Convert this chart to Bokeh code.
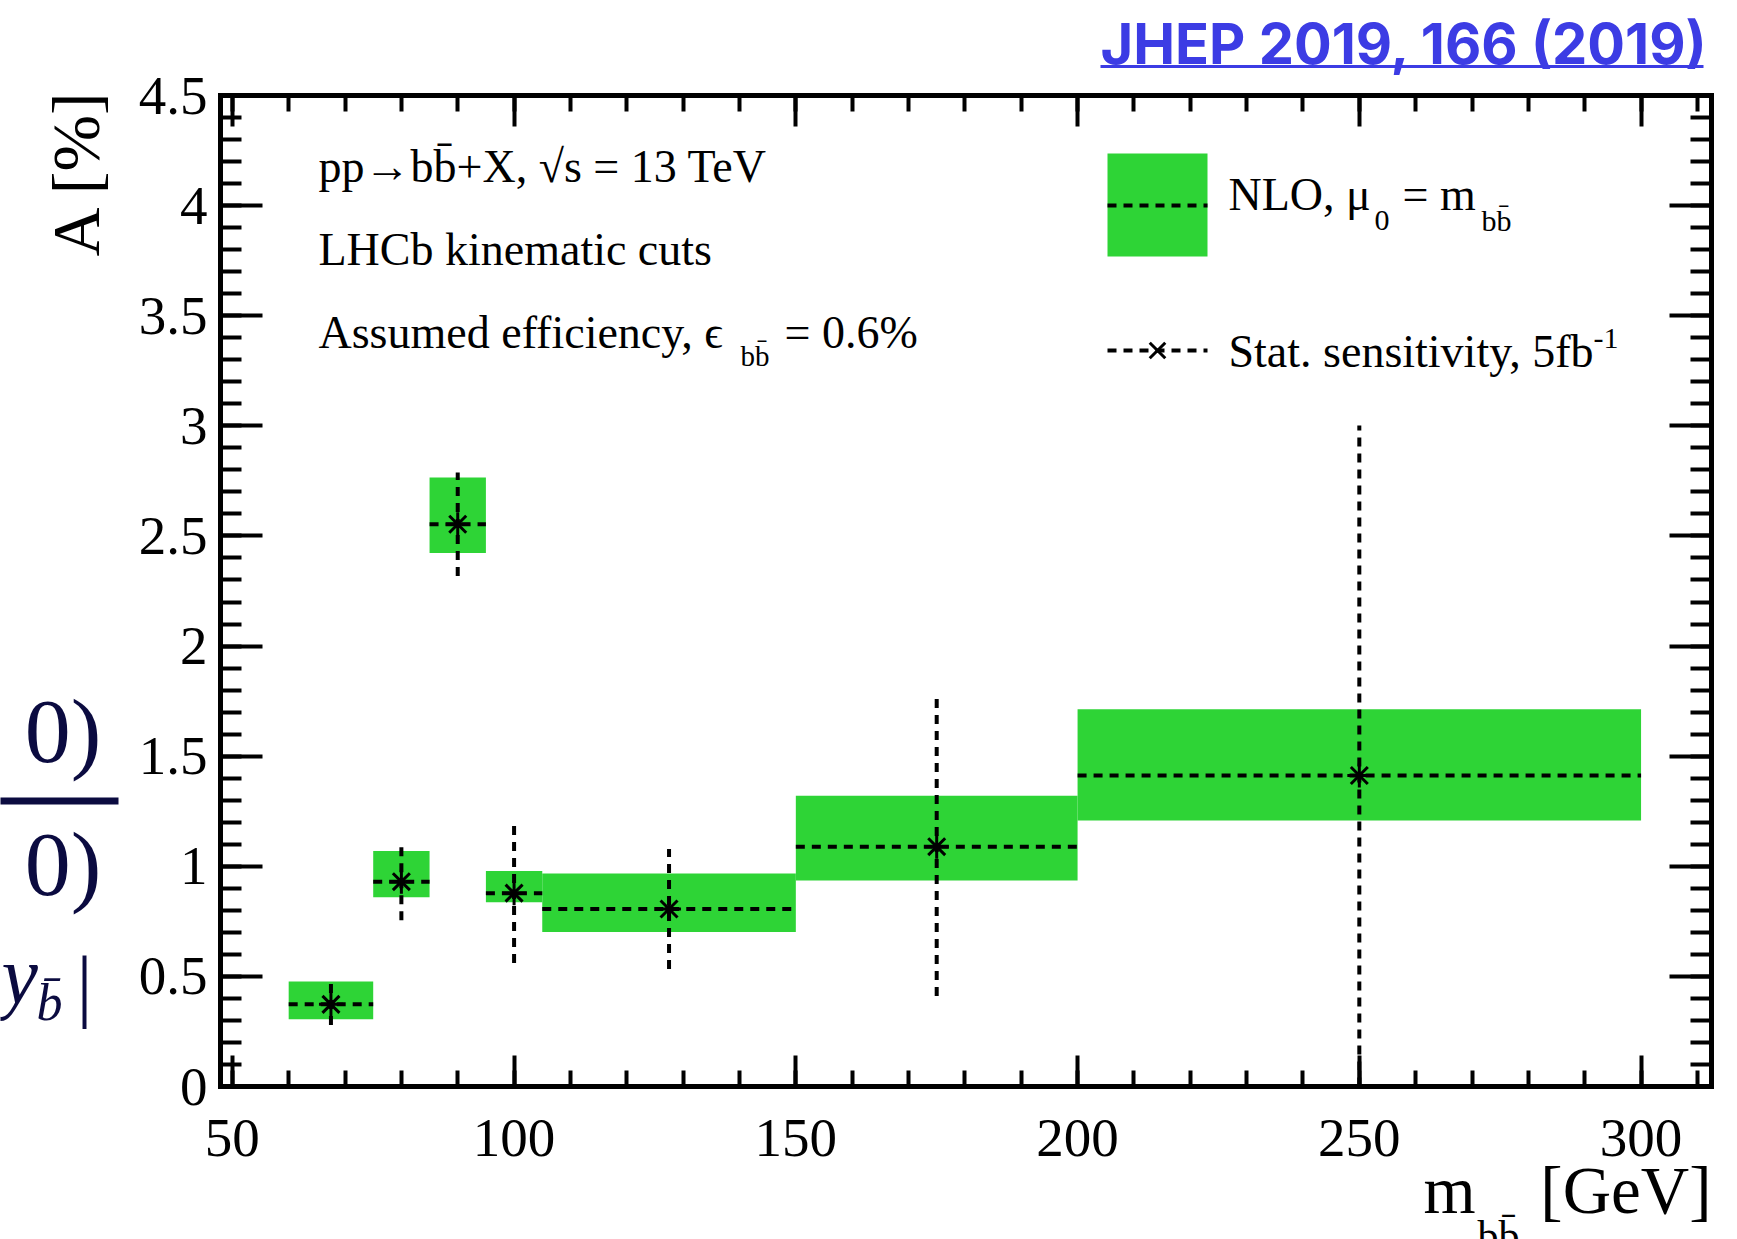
from math import pi
from bokeh.plotting import figure
from bokeh.models import (Range1d, LinearAxis, SingleIntervalTicker, NumeralTickFormatter,
                          CustomJSTickFormatter, Label, BoxAnnotation, ColumnDataSource)
from bokeh.embed import file_html
from bokeh.resources import INLINE

# ---------------- data ----------------
bin_lo   = [60, 75, 85, 95, 105, 150, 200]
bin_hi   = [75, 85, 95, 105, 150, 200, 300]
asym_nlo = [0.373, 0.930, 2.553, 0.878, 0.806, 1.089, 1.412]   # NLO central value [%]
nlo_lo   = [0.305, 0.859, 2.422, 0.837, 0.702, 0.935, 1.208]   # scale band low
nlo_hi   = [0.477, 1.069, 2.765, 0.978, 0.967, 1.320, 1.713]   # scale band high
stat_err = [0.094, 0.175, 0.235, 0.317, 0.273, 0.678, 1.590]   # stat. sensitivity, 5 fb^-1

# ---------------- layout constants ----------------
W, H = 1737, 1239
FL, FR, FT, FB = 220, 1711, 95, 1086      # ROOT frame in canvas pixels
X0, X1 = 47.9, 312.5                      # x axis range
Y0, Y1 = 0.0, 4.5                         # y axis range
GREEN = "#2ED436"
BLUE = "#3c3ce4"
NAVY = "#0b0b40"
SERIF = "Liberation Serif"
BASE = 0.34   # em offset between Bokeh's alphabetic anchor and the drawn baseline

SX = (FR - FL) / (X1 - X0)
SY = (FB - FT) / (Y1 - Y0)


def X(px):
    return X0 + (px - FL) / SX


def Y(py):
    return Y1 - (py - FT) / SY


# the plotting area spans the whole canvas; the ROOT frame is drawn by four axes
# pinned at the range limits (fixed_location), so texts outside the frame are not clipped
p = figure(width=W, height=H, title=None,
           x_range=Range1d(X(0), X(W)), y_range=Range1d(Y(H), Y(0)),
           output_backend="svg", toolbar_location=None,
           x_axis_type=None, y_axis_type=None, min_border=0)
p.grid.visible = False
p.outline_line_color = None
p.background_fill_color = "white"
p.border_fill_color = "white"


def style_axis(ax, major_in, minor_in, labels):
    ax.axis_line_width = 5
    ax.axis_line_color = "black"
    ax.axis_line_cap = "square"
    ax.major_tick_in = major_in
    ax.major_tick_out = 0
    ax.minor_tick_in = minor_in
    ax.minor_tick_out = 0
    ax.major_tick_line_width = 4
    ax.minor_tick_line_width = 4
    ax.major_tick_line_color = "black"
    ax.minor_tick_line_color = "black"
    if labels:
        ax.major_label_text_font = SERIF
        ax.major_label_text_font_size = "55px"
        ax.major_label_text_color = "black"
    else:
        ax.formatter = CustomJSTickFormatter(code="return ''")
        ax.major_label_standoff = 0


for side, loc in [("below", Y0), ("above", Y1)]:
    ax = LinearAxis(ticker=SingleIntervalTicker(interval=50, num_minor_ticks=5),
                    fixed_location=loc, bounds=(X0, X1))
    style_axis(ax, 31, 16, side == "below")
    if side == "below":
        ax.major_label_standoff = 33
    p.add_layout(ax, side)

for side, loc in [("left", X0), ("right", X1)]:
    ax = LinearAxis(ticker=SingleIntervalTicker(interval=0.5, num_minor_ticks=5),
                    fixed_location=loc, bounds=(Y0, Y1))
    style_axis(ax, 42, 21, side == "left")
    if side == "left":
        ax.formatter = NumeralTickFormatter(format="0.[0]")
        ax.major_label_standoff = 13
    p.add_layout(ax, side)

# ---------------- data glyphs ----------------
src = ColumnDataSource(dict(
    lo=bin_lo, hi=bin_hi, c=asym_nlo, blo=nlo_lo, bhi=nlo_hi,
    xc=[(a + b) / 2 for a, b in zip(bin_lo, bin_hi)],
    elo=[max(c - e, Y0) for c, e in zip(asym_nlo, stat_err)],   # clipped at the frame
    ehi=[min(c + e, Y1) for c, e in zip(asym_nlo, stat_err)],
))
p.quad(left="lo", right="hi", bottom="blo", top="bhi", source=src,
       fill_color=GREEN, line_color=None)
p.segment(x0="lo", x1="hi", y0="c", y1="c", source=src,
          line_color="black", line_width=4, line_dash="9 7")
p.segment(x0="xc", x1="xc", y0="elo", y1="ehi", source=src,
          line_color="black", line_width=4, line_dash="9 7")
p.scatter(x="xc", y="c", source=src, marker="asterisk", size=24,
          line_color="black", line_width=3)

# ---------------- legend keys (ROOT-style) ----------------
p.quad(left=[X(1107)], right=[X(1207)], bottom=[Y(256)], top=[Y(153)],
       fill_color=GREEN, line_color=None)
p.segment(x0=[X(1107)], x1=[X(1207)], y0=[Y(205)], y1=[Y(205)],
          line_color="black", line_width=4, line_dash="9 7")
p.segment(x0=[X(1107)], x1=[X(1207)], y0=[Y(350)], y1=[Y(350)],
          line_color="black", line_width=4, line_dash="9 7")
p.scatter(x=[X(1157)], y=[Y(350)], marker="x", size=22, line_color="black", line_width=3)


def txt(px, py, s, size, font=SERIF, color="black", **kw):
    """Place text with its baseline at canvas pixel (px, py)."""
    p.add_layout(Label(x=X(px), y=Y(py - BASE * size), text=s, text_font=font,
                       text_font_size=f"{size}px", text_color=color,
                       text_baseline="alphabetic", **kw))


BB = "bb\u0304"
# legend texts
txt(1228, 210, "NLO, \u03bc", 46)
txt(1374, 230, "0", 30)
txt(1402, 210, "= m", 46)
txt(1481, 230, BB, 30)
txt(1228, 367, "Stat. sensitivity, 5fb", 46)
txt(1593, 348, "-1", 30)

# annotations
txt(318, 182, "pp\u2192" + BB + "+X, \u221as = 13 TeV", 46)
txt(318, 265, "LHCb kinematic cuts", 46)
txt(318, 348, "Assumed efficiency, \u03f5", 46)
txt(740, 365, BB, 29)
txt(784, 348, "= 0.6%", 46)

# axis titles
txt(1423, 1212, "m", 67)
txt(1477, 1250, BB, 42)
txt(1711, 1212, "[GeV]", 67, text_align="right")
p.add_layout(Label(x=X(75), y=Y(88), text="A [%]", text_font=SERIF, text_font_size="68px",
                   text_color="black", angle=pi / 2, text_align="right",
                   text_baseline="alphabetic"))

# header link
txt(1100, 63, "JHEP 2019, 166 (2019)", 56, font="Inter", color=BLUE, text_font_style="bold")
p.add_layout(BoxAnnotation(left=X(1100), right=X(1703), top=Y(64.5), bottom=Y(67.5),
                           fill_color=BLUE, fill_alpha=1, line_color=None))

# fragments of a neighbouring figure, cut by the left edge
txt(101, 762, "< 0)", 92, color=NAVY, text_align="right")
p.add_layout(BoxAnnotation(left=X(-30), right=X(118), top=Y(797), bottom=Y(804),
                           fill_color=NAVY, fill_alpha=1, line_color=None))
txt(101, 895, "< 0)", 92, color=NAVY, text_align="right")
txt(1, 1003, "y", 82, color=NAVY, text_font_style="italic")
txt(36, 1020, "b\u0304", 52, color=NAVY, text_font_style="italic")
txt(76, 1012, "|", 80, color=NAVY)

open("out.html", "w").write(file_html(p, INLINE))
